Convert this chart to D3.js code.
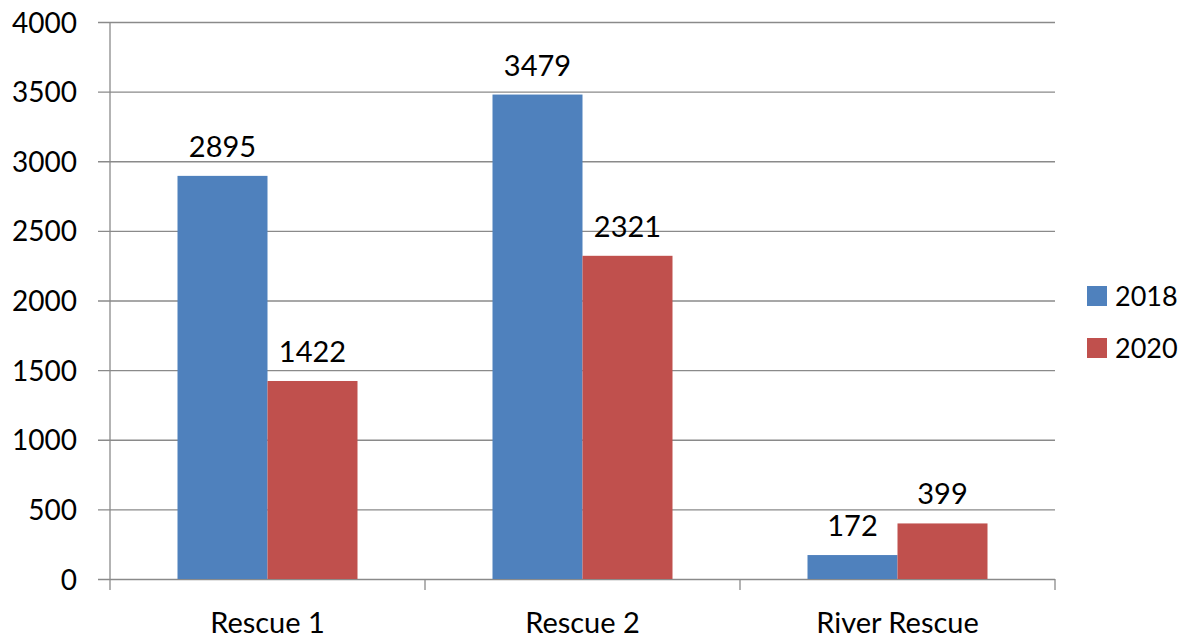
<!DOCTYPE html>
<html>
<head>
<meta charset="utf-8">
<script src="https://cdn.jsdelivr.net/npm/d3@7"></script>
<style>
  body { margin: 0; background: #fff; }
  svg { display: block; }
  text { font-family: Lato, "Open Sans", sans-serif; fill: #000; }
</style>
</head>
<body>
<svg id="chart" width="1189" height="638"></svg>
<script>
// Rescue counts by unit
const categories = ["Rescue 1", "Rescue 2", "River Rescue"];
const seriesNames = ["2018", "2020"];
const values2018 = [2895, 3479, 172];
const values2020 = [1422, 2321, 399];
const yTicks = [0, 500, 1000, 1500, 2000, 2500, 3000, 3500, 4000];
const colors = ["#4F81BD", "#C0504D"];

const svg = d3.select("#chart");
const plot = { left: 110, right: 1055, top: 22, bottom: 579 };

const x = d3.scaleBand().domain(categories).range([plot.left, plot.right]).padding(0);
const xInner = d3.scaleBand().domain(seriesNames)
  .range([0, x.bandwidth()]).paddingOuter(0.75).paddingInner(0);
const y = d3.scaleLinear().domain([0, 4000]).range([plot.bottom, plot.top]);

const gridColor = "#8a8a8a";

// horizontal gridlines, extended a little left of the axis as ticks
const yAxis = d3.axisLeft(y).tickValues(yTicks)
  .tickSize(-(plot.right - plot.left)).tickFormat(d3.format("d"));
const gy = svg.append("g").attr("transform", `translate(${plot.left},0)`).call(yAxis);
gy.select(".domain").remove();
gy.selectAll(".tick line").attr("x1", -12)
  .attr("stroke", gridColor).attr("stroke-width", 1.3);
gy.selectAll(".tick text")
  .attr("x", -33).attr("dy", "0.36em")
  .attr("font-size", 28).attr("text-anchor", "end").attr("fill", "#000");

// bars
const data = categories.map((c, i) => ({ cat: c, vals: [values2018[i], values2020[i]] }));
const groups = svg.append("g").selectAll("g").data(data).join("g")
  .attr("transform", d => `translate(${x(d.cat)},0)`);

groups.selectAll("rect").data(d => d.vals.map((v, j) => ({ v, s: seriesNames[j], j })))
  .join("rect")
  .attr("x", d => xInner(d.s))
  .attr("y", d => y(d.v))
  .attr("width", xInner.bandwidth())
  .attr("height", d => y(0) - y(d.v))
  .attr("fill", d => colors[d.j]);

groups.selectAll("text.val").data(d => d.vals.map((v, j) => ({ v, s: seriesNames[j], j })))
  .join("text").attr("class", "val")
  .attr("x", d => xInner(d.s) + xInner.bandwidth() / 2)
  .attr("y", d => y(d.v) - 19)
  .attr("text-anchor", "middle")
  .attr("font-size", 29)
  .text(d => d.v);

// vertical axis line
svg.append("line").attr("x1", plot.left).attr("x2", plot.left)
  .attr("y1", plot.top).attr("y2", plot.bottom + 11)
  .attr("stroke", gridColor).attr("stroke-width", 1.3);

// category axis labels
const xAxis = d3.axisBottom(x).tickSize(0).tickPadding(33);
const gx = svg.append("g").attr("transform", `translate(0,${plot.bottom})`).call(xAxis);
gx.select(".domain").remove();
gx.selectAll(".tick text").attr("font-size", 29).attr("fill", "#000");

// boundary ticks between categories
const bounds = categories.map(c => x(c) + x.bandwidth());
svg.append("g").selectAll("line").data(bounds).join("line")
  .attr("x1", d => d).attr("x2", d => d).attr("y1", plot.bottom).attr("y2", plot.bottom + 11)
  .attr("stroke", gridColor).attr("stroke-width", 1.3);

// legend
const legend = svg.append("g").selectAll("g").data(seriesNames).join("g")
  .attr("transform", (d, i) => `translate(1087,${286 + i * 52})`);
legend.append("rect").attr("width", 20).attr("height", 20).attr("fill", (d, i) => colors[i]);
legend.append("text").attr("x", 28).attr("y", 10).attr("dy", "0.36em")
  .attr("font-size", 27).text(d => d);
</script>
</body>
</html>
